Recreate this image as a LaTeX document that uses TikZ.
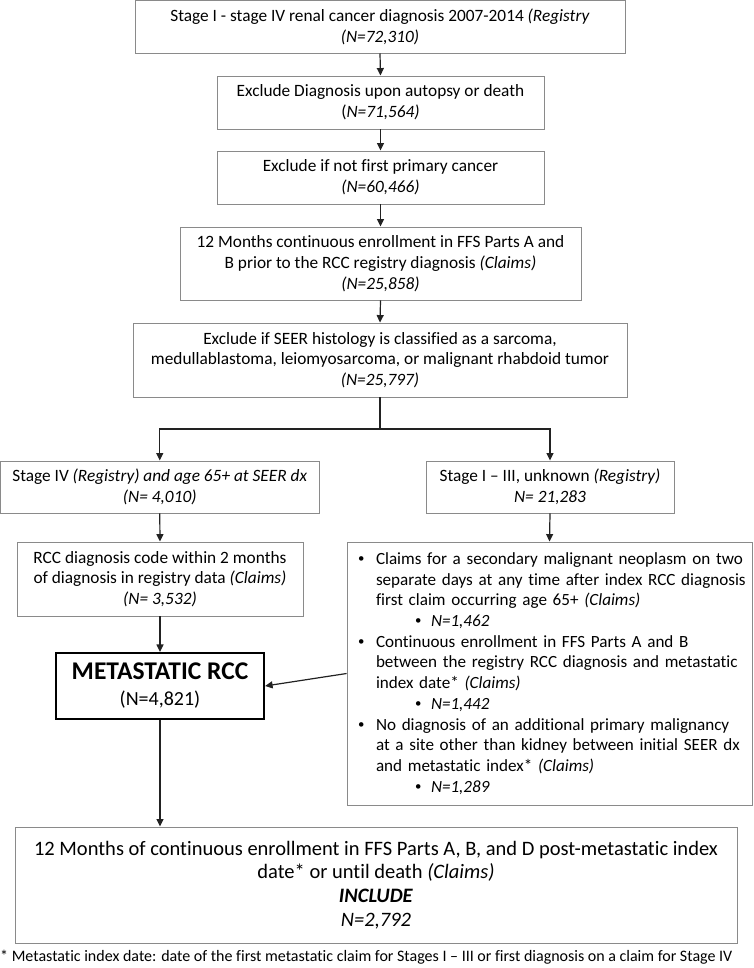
\documentclass[tikz,border=0pt]{standalone}
\usepackage{graphicx}
\usepackage{fontspec}
\setmainfont{Carlito}[Ligatures=NoCommon]
\usetikzlibrary{arrows.meta}
\definecolor{boxgray}{HTML}{8A8A8A}
\definecolor{linegray}{HTML}{222222}
\newcommand{\bul}{\raisebox{0.12em}{\scalebox{0.75}{•}}}
\begin{document}
\begin{tikzpicture}[x=1pt,y=-1pt,
  box/.style={draw=boxgray, line width=0.9pt, inner sep=0pt, align=center,
    font=\fontsize{17.3}{20.7}\selectfont},
  conn/.style={draw=linegray, line width=1.2pt},
  arr/.style={conn, -{Triangle[length=7.5pt,width=7pt]}}]
\useasboundingbox (0,0) rectangle (753,968);

\node[box, minimum width=490pt, minimum height=52.5pt] (b1) at (380,26.8)
  {Stage I - stage IV renal cancer diagnosis 2007-2014 \textit{(Registry}\\ \textit{(N=72,310)}};
\node[box, minimum width=327pt, minimum height=53pt] (b2) at (380.5,102.5)
  {Exclude Diagnosis upon autopsy or death\\ (\textit{N=71,564)}};
\node[box, minimum width=327pt, minimum height=53pt] (b3) at (380.5,177.5)
  {Exclude if not first primary cancer\\ \textit{(N=60,466)}};
\node[box, minimum width=401pt, minimum height=73pt] (b4) at (380.5,263.5)
  {12 Months continuous enrollment in FFS Parts A and\\ B prior to the RCC registry diagnosis \textit{(Claims)}\\ \textit{(N=25,858)}};
\node[box, minimum width=494pt, minimum height=74pt] (b5) at (380,360)
  {Exclude if SEER histology is classified as a sarcoma,\\ medullablastoma, leiomyosarcoma, or malignant rhabdoid tumor\\ \textit{(N=25,797)}};
\node[box, minimum width=318.5pt, minimum height=52pt] (b6) at (159.75,487)
  {Stage IV \textit{(Registry) and age 65+ at SEER dx}\\ \textit{(N= 4,010)}};
\node[box, minimum width=248pt, minimum height=52pt] (b7) at (550,487)
  {Stage I -- III, unknown \textit{(Registry)}\\ \textit{N= 21,283}};
\node[box, minimum width=286pt, minimum height=74pt] (b8) at (160,579)
  {RCC diagnosis code within 2 months\\ of diagnosis in registry data \textit{(Claims)}\\ \textit{(N= 3,532)}};
\node[box, minimum width=405pt, minimum height=263pt, text width=405pt, align=left,
  font=\fontsize{17.1}{20.7}\selectfont] (b9) at (549.5,673.5)
  {\hspace*{11pt}\makebox[18pt][l]{\bul}Claims for a secondary malignant neoplasm on two\\
   \hspace*{29pt}separate days at any time after index RCC diagnosis\\
   \hspace*{29pt}first claim occurring age 65+ \textit{(Claims)}\\
   \hspace*{68pt}\makebox[16pt][l]{\bul}\textit{N=1,462}\\
   \hspace*{11pt}\makebox[18pt][l]{\bul}Continuous enrollment in FFS Parts A and B\\
   \hspace*{29pt}between the registry RCC diagnosis and metastatic\\
   \hspace*{29pt}index date* \textit{(Claims)}\\
   \hspace*{68pt}\makebox[16pt][l]{\bul}\textit{N=1,442}\\
   \hspace*{11pt}\makebox[18pt][l]{\bul}No diagnosis of an additional primary malignancy\\
   \hspace*{29pt}at a site other than kidney between initial SEER dx\\
   \hspace*{29pt}and metastatic index* \textit{(Claims)}\\
   \hspace*{68pt}\makebox[16pt][l]{\bul}\textit{N=1,289}};
\node[draw=black, line width=2.2pt, inner sep=0pt, minimum width=208pt, minimum height=66pt, align=center,
  font=\fontsize{20}{26}\selectfont] (meta) at (160,686)
  {{\fontsize{25.5}{26}\selectfont\bfseries METASTATIC RCC}\\ (N=4,821)};
\node[box, minimum width=722pt, minimum height=116pt, font=\fontsize{20.5}{23.7}\selectfont] (b10) at (376,885)
  {12 Months of continuous enrollment in FFS Parts A, B, and D post-metastatic index\\
   date* or until death \textit{(Claims)}\\ \textbf{\textit{INCLUDE}}\\ \textit{N=2,792}};
\node[anchor=west, inner sep=0pt, font=\fontsize{16}{18}\selectfont] (fn) at (0,957)
  {* Metastatic index date: date of the first metastatic claim for Stages I -- III or first diagnosis on a claim for Stage IV};

\coordinate (j) at (380,429);
\draw[arr] (b1.south) -- (b2.north);
\draw[arr] (b2.south) -- (b3.north);
\draw[arr] (b3.south) -- (b4.north);
\draw[arr] (b4.south) -- (b5.north);
\draw[conn] (b5.south) -- (j);
\draw[arr] (j) -| (b6.north);
\draw[arr] (j) -| (b7.north);
\draw[arr] (b6.south) -- (b8.north);
\draw[arr] (b7.south) -- (b9.north);
\draw[arr] (b8.south) -- (meta.north);
\draw[arr] (b9.west) -- (meta.east);
\draw[arr] (meta.south) -- (meta.south |- b10.north);
\end{tikzpicture}
\end{document}
